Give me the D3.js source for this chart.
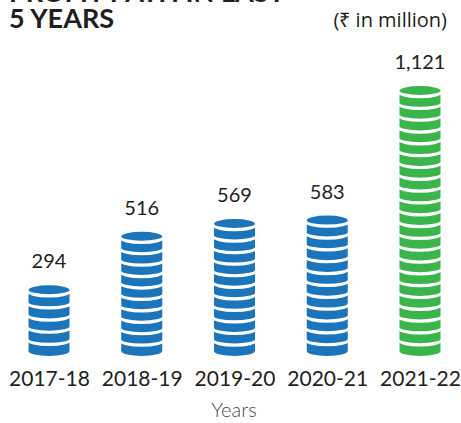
<!DOCTYPE html>
<html>
<head>
<meta charset="utf-8">
<script src="https://cdn.jsdelivr.net/npm/d3@7"></script>
<style>
  html, body { margin: 0; padding: 0; background: #fff; }
  svg { display: block; }
</style>
</head>
<body>
<svg id="chart" width="461" height="423"></svg>
<script>
// Profit after tax, ₹ million, by financial year
const categories = ["2017-18", "2018-19", "2019-20", "2020-21", "2021-22"];
const values = [294, 516, 569, 583, 1121];
const valueLabels = ["294", "516", "569", "583", "1,121"];
const titleLines = ["PROFIT PATH IN LAST", "5 YEARS"];
const unitLabel = "(₹ in million)";
const axisTitle = "Years";

const svg = d3.select("#chart");
const baseY = 356, topY = 86;
const textColor = "#231f20";
const blue = "#1b75bc", green = "#39b54a";

const x = d3.scalePoint().domain(categories).range([49, 420]);
const y = d3.scaleLinear().domain([0, d3.max(values)]).range([baseY, topY]);

// Title (first line runs off the top edge)
svg.append("g").selectAll("text").data(titleLines).join("text")
  .attr("x", 9)
  .attr("y", (d, i) => 2 + i * 26)
  .attr("font-family", "Lato")
  .attr("font-weight", 700)
  .attr("font-size", 27)
  .attr("fill", textColor)
  .text(d => d);

svg.append("text")
  .attr("x", 447).attr("y", 27)
  .attr("text-anchor", "end")
  .attr("font-family", "Open Sans")
  .attr("font-size", 20)
  .attr("fill", textColor)
  .text(unitLabel);

// Coin stacks
const rx = 20.5, ry = 5, pitchTarget = 11.7;
const stacks = svg.append("g").selectAll("g").data(categories).join("g");

stacks.each(function(cat, i) {
  const g = d3.select(this);
  const cx = x(cat);
  const cyTop = y(values[i]) + ry;
  const cyBot = y(0) - ry;
  const n = Math.max(1, Math.round((cyBot - cyTop) / pitchTarget));
  const pitch = (cyBot - cyTop) / n;
  const fill = i === categories.length - 1 ? green : blue;

  g.append("path")
    .attr("d", `M${cx - rx},${cyTop} A${rx},${ry} 0 0 1 ${cx + rx},${cyTop} L${cx + rx},${cyBot} A${rx},${ry} 0 0 1 ${cx - rx},${cyBot} Z`)
    .attr("fill", fill);

  g.selectAll("path.sep").data(d3.range(n)).join("path")
    .attr("class", "sep")
    .attr("d", k => {
      const cy = cyTop + k * pitch + 0.6;
      return `M${cx - rx - 1},${cy} A${rx + 1},${ry} 0 0 0 ${cx + rx + 1},${cy}`;
    })
    .attr("fill", "none")
    .attr("stroke", "#fff")
    .attr("stroke-width", 3.2);
});

// Value labels
svg.append("g").selectAll("text").data(categories).join("text")
  .attr("x", d => x(d))
  .attr("y", (d, i) => y(values[i]) - 17)
  .attr("text-anchor", "middle")
  .attr("font-family", "Lato")
  .attr("font-size", 20)
  .attr("fill", textColor)
  .text((d, i) => valueLabels[i]);

// Category axis
const axis = svg.append("g")
  .attr("transform", `translate(0,${baseY})`)
  .call(d3.axisBottom(x).tickSize(0).tickPadding(30));
axis.select(".domain").remove();
axis.selectAll("text")
  .attr("font-family", "Lato")
  .attr("font-size", 21)
  .attr("fill", textColor)
  .attr("dy", 0);

svg.append("text")
  .attr("x", 234).attr("y", 417)
  .attr("text-anchor", "middle")
  .attr("font-family", "Lato")
  .attr("font-weight", 300)
  .attr("font-size", 20)
  .attr("fill", "#4a4a4a")
  .text(axisTitle);
</script>
</body>
</html>
